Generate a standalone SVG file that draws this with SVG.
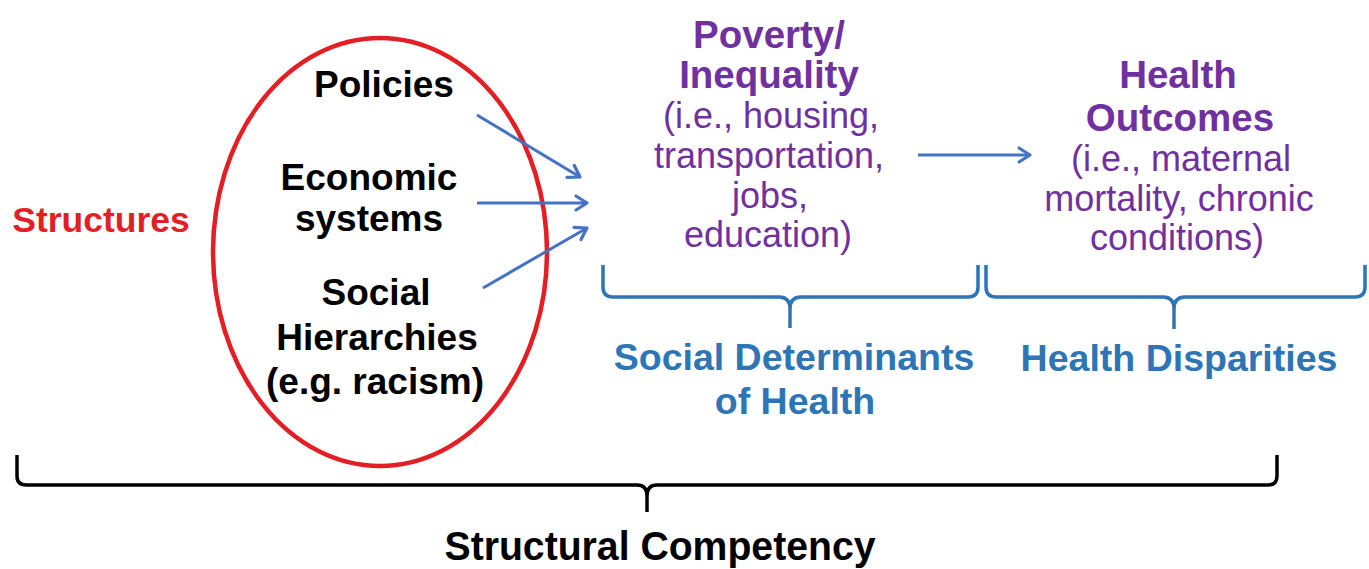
<svg xmlns="http://www.w3.org/2000/svg" width="1369" height="569" viewBox="0 0 1369 569">
<defs>
<style>
.b{font-family:"Liberation Sans",Arial,sans-serif;font-weight:bold;text-anchor:middle}
.r{font-family:"Liberation Sans",Arial,sans-serif;font-weight:normal;text-anchor:middle}
.blk{fill:#000;font-size:37px}
.pur{fill:#7030a0}
.pb{font-size:38.5px}
.pr{font-size:36px}
.blu{fill:#2e75b6;font-size:37.5px}
.arr{stroke:#4472c4;stroke-width:3;fill:none}
.brace-b{stroke:#2e75b6;stroke-width:3.5;fill:none}
.brace-k{stroke:#000;stroke-width:3.5;fill:none}
</style>
<marker id="head" markerUnits="userSpaceOnUse" markerWidth="20" markerHeight="20" viewBox="0 0 20 20" refX="17" refY="10" orient="auto">
<path d="M6,3 L17,10 L6,17" fill="none" stroke="#4472c4" stroke-width="3.2" stroke-linecap="round" stroke-linejoin="round"/>
</marker>
</defs>
<rect width="1369" height="569" fill="#fff"/>

<g id="structures">
<text class="b" x="101" y="232" fill="#e31e24" font-size="35.5px">Structures</text>
</g>

<g id="structures-ellipse">
<ellipse cx="380" cy="252" rx="167" ry="214" fill="none" stroke="#e31e24" stroke-width="4.5"/>
</g>

<g id="policies">
<text class="b blk" x="384" y="97">Policies</text>
</g>
<g id="economic-systems">
<text class="b blk" x="369" y="190">Economic</text>
<text class="b blk" x="369" y="231">systems</text>
</g>
<g id="social-hierarchies">
<text class="b blk" x="376" y="305">Social</text>
<text class="b blk" x="377" y="350">Hierarchies</text>
<text class="b blk" x="375" y="394">(e.g. racism)</text>
</g>

<g id="poverty-inequality">
<text class="b pur pb" x="769" y="48">Poverty/</text>
<text class="b pur pb" x="769" y="88">Inequality</text>
<text class="r pur pr" x="771" y="128">(i.e., housing,</text>
<text class="r pur pr" x="769" y="168">transportation,</text>
<text class="r pur pr" x="770" y="208">jobs,</text>
<text class="r pur pr" x="768" y="247">education)</text>
</g>

<g id="health-outcomes">
<text class="b pur pb" x="1178" y="88">Health</text>
<text class="b pur pb" x="1180" y="131">Outcomes</text>
<text class="r pur pr" x="1181" y="171">(i.e., maternal</text>
<text class="r pur pr" x="1179" y="211">mortality, chronic</text>
<text class="r pur pr" x="1177" y="250">conditions)</text>
</g>

<g id="social-determinants">
<text class="b blu" x="794" y="370">Social Determinants</text>
<text class="b blu" x="795" y="414">of Health</text>
</g>

<g id="health-disparities">
<text class="b blu" x="1179" y="371">Health Disparities</text>
</g>

<g id="structural-competency">
<text class="b" x="660" y="560" fill="#000" font-size="40px" textLength="431" lengthAdjust="spacingAndGlyphs">Structural Competency</text>
</g>

<g id="connectors">
<line class="arr" x1="477" y1="115" x2="580" y2="177" marker-end="url(#head)"/>
<line class="arr" x1="477" y1="203" x2="587" y2="203" marker-end="url(#head)"/>
<line class="arr" x1="483" y1="288" x2="587" y2="228" marker-end="url(#head)"/>
<line class="arr" x1="918" y1="155" x2="1030" y2="155" marker-end="url(#head)"/>
<path class="brace-b" d="M603,265 V287 Q603,297 613,297 H779 Q790,297 790,309 Q790,297 801,297 H968 Q978,297 978,287 V265 M790,305 V328"/>
<path class="brace-b" d="M986,265 V287 Q986,297 996,297 H1163 Q1174,297 1174,309 Q1174,297 1185,297 H1355 Q1365,297 1365,287 V265 M1174,305 V329"/>
<path class="brace-k" d="M17,455 V476 Q17,485 26,485 H637 Q647,485 647,496 Q647,485 657,485 H1268 Q1277,485 1277,476 V455 M647,493 V512"/>
</g>
</svg>
